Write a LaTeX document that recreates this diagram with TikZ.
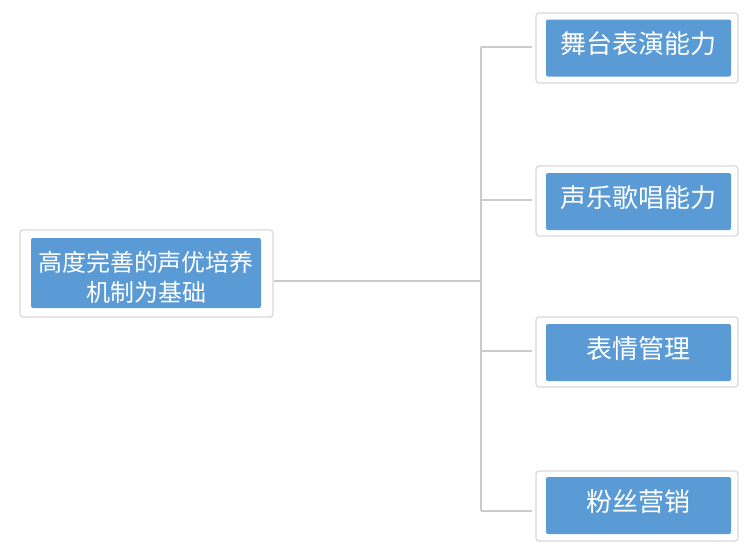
\documentclass[tikz,border=0pt]{standalone}
\usepackage{fontspec}
\newfontfamily\cjk{Noto Sans CJK SC}
\usetikzlibrary{positioning}
\definecolor{boxblue}{HTML}{5B9BD5}
\definecolor{framegray}{HTML}{D9D9D9}
\definecolor{linegray}{HTML}{CBCBCB}

\begin{document}
\begin{tikzpicture}[x=1pt,y=-1pt,frame/.style={draw=framegray,line width=1.3pt,fill=white,rounded corners=3pt,minimum width=202pt,minimum height=70pt,inner sep=0pt},skill/.style={fill=boxblue,rounded corners=2pt,minimum width=185pt,minimum height=57pt,inner sep=0pt,text height=21pt,text depth=10pt,text=white,font=\cjk\fontsize{26}{30}\selectfont},link/.style={draw=linegray,line width=1.3pt}]
    \useasboundingbox (0,0) rectangle (756,555);
    \node[frame,minimum width=253pt,minimum height=87pt] (baseframe) at (146.5,273.5) {};
    \node[skill,minimum width=230pt,minimum height=70pt,align=center,text height=58pt,text depth=2pt,font=\cjk\fontsize{24}{29.5}\selectfont] (base) at (146,273) {高度完善的声优培养\\机制为基础};
    \node[frame] (stageframe) at (637,48) {};
    \node[skill] (stage) at (638.5,48) {舞台表演能力};
    \node[frame] (vocalframe) at (637,201) {};
    \node[skill] (vocal) at (638.5,201.5) {声乐歌唱能力};
    \node[frame] (faceframe) at (637,352) {};
    \node[skill] (face) at (638.5,352.5) {表情管理};
    \node[frame] (fanframe) at (637,506) {};
    \node[skill] (fan) at (638.5,505.5) {粉丝营销};
    \coordinate (hub) at (481,281);
    \coordinate (j1) at (481,47);
    \coordinate (j2) at (481,200);
    \coordinate (j3) at (481,351);
    \coordinate (j4) at (481,511);
    \draw[link] (baseframe.east |- hub) -- (hub);
    \draw[link] (j1) -- (j4);
    \draw[link,shorten >=3pt] (j1) -- (stageframe.west |- j1);
    \draw[link,shorten >=3pt] (j2) -- (vocalframe.west |- j2);
    \draw[link,shorten >=3pt] (j3) -- (faceframe.west |- j3);
    \draw[link,shorten >=3pt] (j4) -- (fanframe.west |- j4);
\end{tikzpicture}
\end{document}
